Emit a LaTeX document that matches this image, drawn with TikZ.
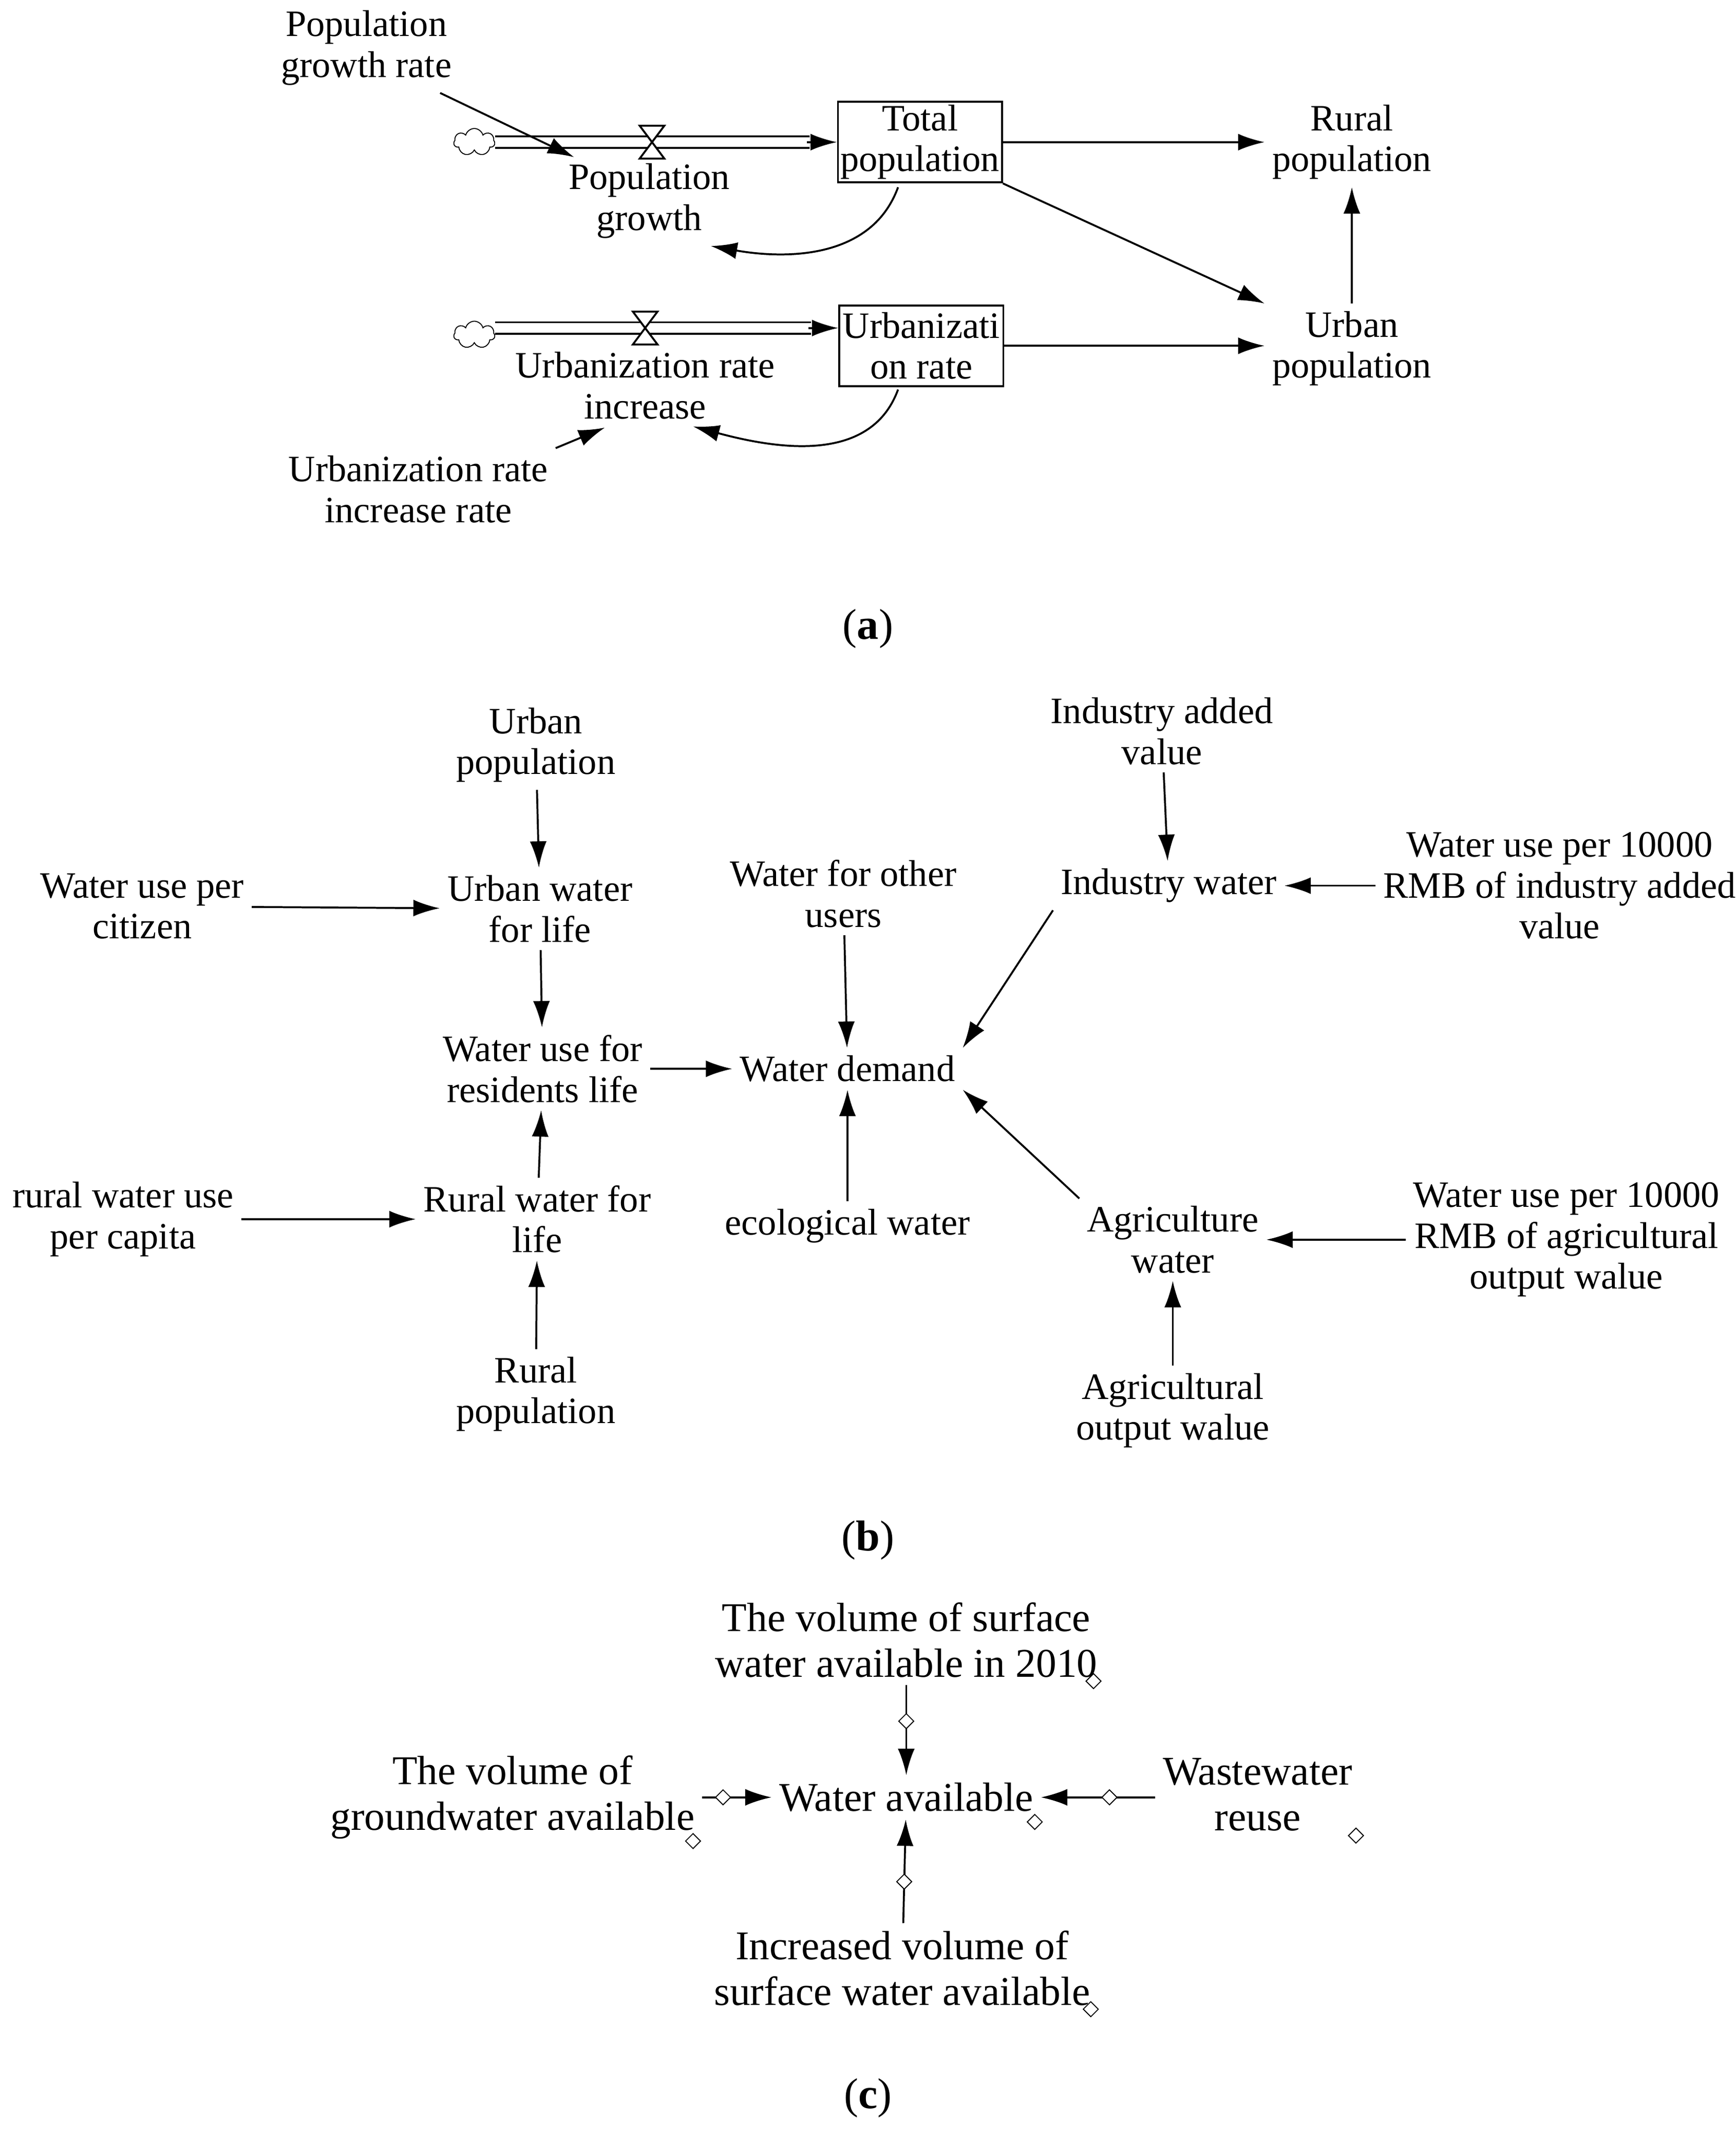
\documentclass[tikz,border=0pt]{standalone}
\usepackage{fontspec}
\setmainfont{Liberation Serif}
\usetikzlibrary{arrows.meta,shapes.symbols,shapes.geometric,calc}
\begin{document}
\begin{tikzpicture}[x=0.02cm,y=-0.02cm,
 t/.style={align=center,inner sep=3pt,font=\fontsize{15.5}{17}\selectfont},
 bx/.style={t,draw,thick,minimum width=120*0.02cm,minimum height=59*0.02cm,inner sep=1pt},
 ar/.style={thick,-{Latex[length=11pt,width=7pt]}},
 lab/.style={font=\fontsize{18}{20}\selectfont},
 dm/.style={draw,diamond,inner sep=1.6pt,fill=white,thin}]
\useasboundingbox (0,0) rectangle (1270,1565);
% (a)
\node[t] (pgr) at (268,35) {Population\\growth rate};
\node[cloud,draw,cloud puffs=7,minimum width=30*0.02cm,minimum height=20*0.02cm,inner sep=0pt] (c1) at (347,104) {};
\node[t] (pg) at (475,147) {Population\\growth};
\node[bx] (tp) at (673,104) {Total\\population};
\node[t] (rp) at (989,104) {Rural\\population};
\node[t] (up) at (989,255) {Urban\\population};
\node[cloud,draw,cloud puffs=7,minimum width=30*0.02cm,minimum height=20*0.02cm,inner sep=0pt] (c2) at (347,245) {};
\node[t] (uri) at (472,282) {Urbanization rate\\increase};
\node[bx] (ur) at (674,253) {Urbanizati\\on rate};
\node[t] (urir) at (306,358) {Urbanization rate\\increase rate};
\node[lab] (la) at (635,460) {(\textbf{a})};
% flows
\coordinate (v1) at (477,104);
\coordinate (v2) at (472,240);
\draw[thick,double,double distance=4pt] (c1.east) -- ([xshift=-20*0.02cm]tp.west|-v1);
\draw[ar] ([xshift=-22*0.02cm]tp.west|-v1) -- (tp.west|-v1);
\draw[thick,double,double distance=4pt] (c2.east|-v2) -- ([xshift=-20*0.02cm]ur.west|-v2);
\draw[ar] ([xshift=-22*0.02cm]ur.west|-v2) -- (ur.west|-v2);
\foreach \v in {v1,v2}{
 \draw[thick,fill=white] ($(\v)+(-9,-12)$) -- ($(\v)+(9,-12)$) -- ($(\v)+(-9,12)$) -- ($(\v)+(9,12)$) -- cycle;}
\draw[ar] (322,68) -- (420,115);
\draw[ar] (tp.east) -- (rp.west|-tp.east);
\draw[ar] (tp.south east) -- (up.north west);
\draw[ar] (up.north) -- (rp.south);
\draw[ar] (ur.east) -- (up.west|-ur.east);
\draw[ar] (657,137) to[out=-110,in=-10] (520,180);
\draw[ar] (657,285) to[out=-110,in=-15] (507,312);
\draw[ar] (urir.north east) -- ++(36,-15) coordinate (e1);
% (b)
\node[t] (bup) at (392,545) {Urban\\population};
\node[t] (uwl) at (395,665) {Urban water\\for life};
\node[t] (wpc) at (104,663) {Water use per\\citizen};
\node[t] (wrl) at (397,782) {Water use for\\residents life};
\node[t] (wd) at (620,782) {Water demand};
\node[t] (wou) at (617,654) {Water for other\\users};
\node[t] (iav) at (850,535) {Industry added\\value};
\node[t] (iw) at (855,648) {Industry water};
\node[t] (wiv) at (1141,648) {Water use per 10000\\RMB of industry added\\value};
\node[t] (rwc) at (90,892) {rural water use\\per capita};
\node[t] (rwl) at (393,892) {Rural water for\\life};
\node[t] (ew) at (620,897) {ecological water};
\node[t] (aw) at (858,907) {Agriculture\\water};
\node[t] (wao) at (1146,907) {Water use per 10000\\RMB of agricultural\\output walue};
\node[t] (brp) at (392,1020) {Rural\\population};
\node[t] (aov) at (858,1032) {Agricultural\\output walue};
\node[lab] (lb) at (635,1127) {(\textbf{b})};
\draw[ar] (bup) -- (uwl);
\draw[ar] (wpc) -- (uwl);
\draw[ar] (uwl) -- (wrl);
\draw[ar] (wrl) -- (wd);
\draw[ar] (wou) -- (wd);
\draw[ar] (iw.south west) -- (wd.north east);
\draw[ar] (iav) -- (iw);
\draw[ar] (wiv.west|-iw) -- (iw);
\draw[ar] (ew) -- (wd);
\draw[ar] (aw.north west) -- (wd.south east);
\draw[ar] (wao.west|-aw) -- (aw);
\draw[ar] (aov) -- (aw);
\draw[ar] (rwc) -- (rwl.west|-rwc);
\draw[ar] (rwl) -- (wrl);
\draw[ar] (brp) -- (rwl);
% (c)
\node[t,font=\fontsize{17}{19}\selectfont] (sw) at (663,1200) {The volume of surface\\water available in 2010};
\node[t,font=\fontsize{17}{19}\selectfont] (gw) at (375,1315) {The volume of\\groundwater available};
\node[t,font=\fontsize{17}{19}\selectfont] (wa) at (663,1315) {Water available};
\node[t,font=\fontsize{17}{19}\selectfont] (wr) at (920,1313) {Wastewater\\reuse};
\node[t,font=\fontsize{17}{19}\selectfont] (iv) at (660,1440) {Increased volume of\\surface water available};
\node[lab] (lc) at (635,1535) {(\textbf{c})};
\draw[ar] (sw) -- (wa) node[dm,pos=0.4]{};
\draw[ar] (gw) -- (wa) node[dm,pos=0.3]{};
\draw[ar] (wr.west|-wa) -- (wa) node[dm,pos=0.4]{};
\draw[ar] (iv) -- (wa) node[dm,pos=0.4]{};
\foreach \p in {(800,1230),(507,1347),(757,1333),(992,1343),(798,1470)}
 \node[dm] at \p {};
\end{tikzpicture}
\end{document}
